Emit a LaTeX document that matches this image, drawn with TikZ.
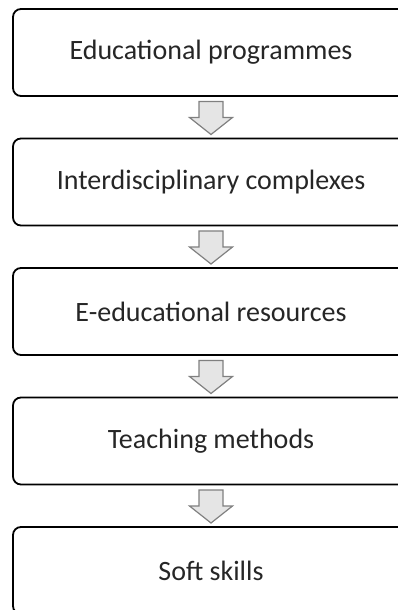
\documentclass[tikz,border=0pt]{standalone}
\usepackage{fontspec}
\setmainfont{Carlito}
\usetikzlibrary{positioning,calc}

\begin{document}
\begin{tikzpicture}[
	x=1pt, y=1pt
	,node distance=42.5pt
	,box/.style={draw, line width=1.8pt, rounded corners=8pt, minimum width=396pt, minimum height=87pt, inner sep=0pt, outer sep=0pt, text=black!85, font=\fontsize{28}{33}\selectfont}
	,blockarrow/.style={draw=black!50, fill=black!10, line width=1.2pt, line join=miter}
]
	\useasboundingbox (0,0) rectangle (398,610);
	\clip (0,0) rectangle (398,610);
	\node [box] (edu) at (211,557.5) {Educational programmes};
	\node [box, below=of edu] (inter) {Interdisciplinary complexes};
	\node [box, below=of inter] (eres) {E-educational resources};
	\node [box, below=of eres] (teach) {Teaching methods};
	\node [box, below=of teach] (soft) {Soft skills};
	% block arrows between the boxes
	\foreach \a in {edu,inter,eres,teach}
		\draw [blockarrow] ($(\a.south)+(-12,-5.5)$) -- ++(24,0) -- ++(0,-16) -- ++(9.5,0) -- ++(-21.5,-17) -- ++(-21.5,17) -- ++(9.5,0) -- cycle;
\end{tikzpicture}
\end{document}
